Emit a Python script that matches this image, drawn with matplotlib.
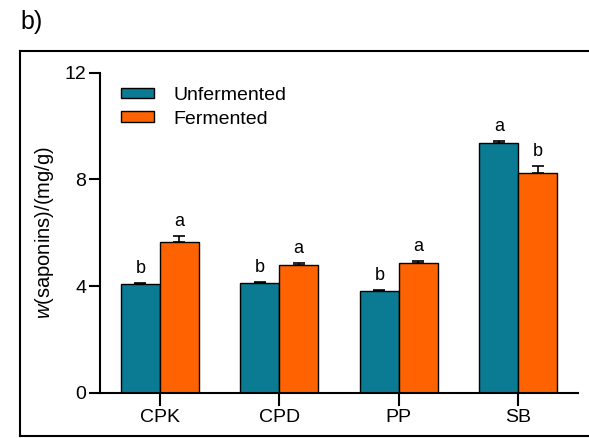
import matplotlib
matplotlib.use("Agg")
import matplotlib.pyplot as plt
from matplotlib.lines import Line2D
import numpy as np

plt.rcParams['font.family'] = ['Liberation Sans', 'DejaVu Sans']
plt.rcParams['mathtext.fontset'] = 'custom'
plt.rcParams['mathtext.it'] = 'Liberation Sans:italic'
plt.rcParams['mathtext.rm'] = 'Liberation Sans'

# data
categories = ["CPK", "CPD", "PP", "SB"]
unfermented = [4.06, 4.12, 3.80, 9.37]
unfermented_err = [0.06, 0.04, 0.04, 0.07]
fermented = [5.66, 4.78, 4.87, 8.25]
fermented_err = [0.23, 0.10, 0.08, 0.26]
letters_unf = ["b", "b", "b", "a"]
letters_fer = ["a", "a", "a", "b"]
yticks = [0, 4, 8, 12]

teal = "#0a7b93"
orange = "#ff6200"

fig = plt.figure(figsize=(5.89, 4.38), dpi=100)
ax = fig.add_axes([0.1698, 0.1034, 0.8115, 0.7308])

x = np.arange(len(categories))
w = 0.325
ekw = dict(elinewidth=1.2, capthick=1.2, ecolor="black")
ax.bar(x - w / 2, unfermented, w, color=teal, edgecolor="black", linewidth=1.0,
       yerr=[np.zeros(4), unfermented_err], capsize=4, error_kw=ekw, label="Unfermented", zorder=2)
ax.bar(x + w / 2, fermented, w, color=orange, edgecolor="black", linewidth=1.0,
       yerr=[np.zeros(4), fermented_err], capsize=4, error_kw=ekw, label="Fermented", zorder=2)

for i in range(len(categories)):
    ax.text(x[i] - w / 2, unfermented[i] + unfermented_err[i] + 0.22, letters_unf[i],
            ha="center", va="bottom", fontsize=13)
    ax.text(x[i] + w / 2, fermented[i] + fermented_err[i] + 0.22, letters_fer[i],
            ha="center", va="bottom", fontsize=13)

ax.set_xlim(-0.5, 3.5)
ax.set_ylim(0, 12)
ax.set_yticks(yticks)
ax.set_xticks(x)
ax.set_xticklabels(categories, fontsize=14)
ax.tick_params(axis="y", labelsize=14, length=8, width=1.5, direction="out", pad=2)
ax.tick_params(axis="x", length=9, width=1.5, direction="out", pad=3)
for s in ["top", "right"]:
    ax.spines[s].set_visible(False)
for s in ["left", "bottom"]:
    ax.spines[s].set_linewidth(1.5)
ax.set_ylabel(r"$\it{w}$(saponins)/(mg/g)", fontsize=14.5, labelpad=6)

ax.legend(loc="upper left", bbox_to_anchor=(0.007, 1.01), frameon=False, fontsize=14,
          handlelength=1.7, handleheight=0.47, handletextpad=1.0, labelspacing=0.35)

# panel frame and label
for xs, ys in [([0.034, 0.034], [0.004, 0.883]), ([0.034, 1.0], [0.883, 0.883]),
               ([0.034, 1.0], [0.004, 0.004])]:
    fig.add_artist(Line2D(xs, ys, transform=fig.transFigure, color="black", lw=1.5))
fig.text(0.034, 0.934, "b)", fontsize=18, ha="left", va="baseline")

fig.savefig("out.png", dpi=100)
